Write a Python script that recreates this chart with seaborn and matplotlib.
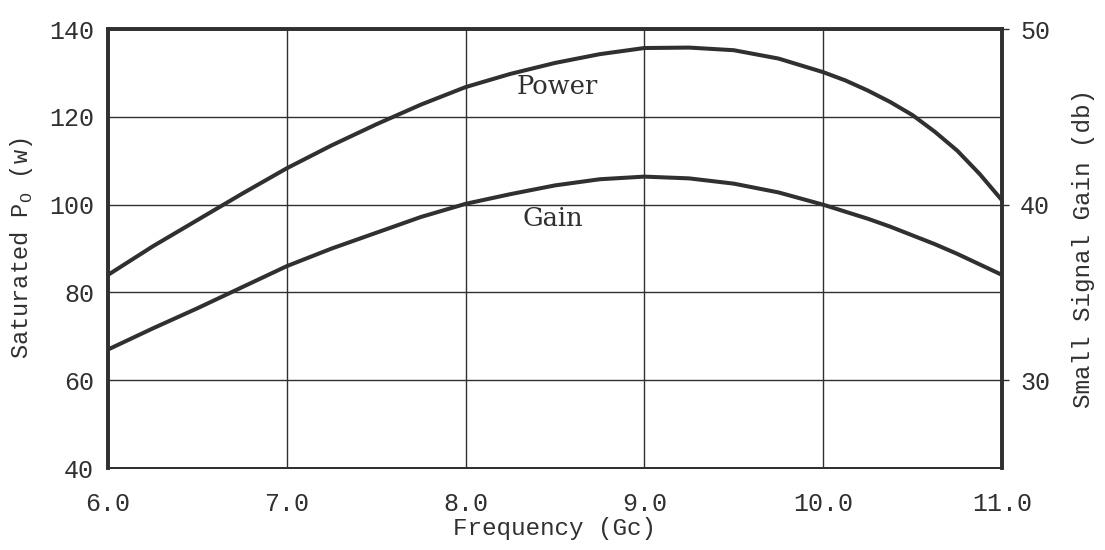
import matplotlib
matplotlib.use("Agg")
import matplotlib.pyplot as plt
import seaborn as sns
import pandas as pd

# Frequency sweep (Gc) and the two measured curves
freq = [6.0, 6.25, 6.5, 6.75, 7.0, 7.25, 7.5, 7.75, 8.0, 8.25, 8.5,
        8.75, 9.0, 9.25, 9.5, 9.75, 10.0, 10.125, 10.25, 10.375, 10.5,
        10.625, 10.75, 10.875, 11.0]
power_w = [84.0, 90.5, 96.5, 102.5, 108.3, 113.5, 118.3, 122.8, 126.8, 129.8, 132.3,
           134.3, 135.7, 135.8, 135.2, 133.3, 130.2, 128.3, 126.0, 123.4, 120.4,
           116.6, 112.3, 107.0, 101.0]
gain_db = [31.75, 32.95, 34.1, 35.3, 36.5, 37.5, 38.4, 39.3, 40.05, 40.6, 41.1,
           41.45, 41.6, 41.5, 41.2, 40.7, 40.0, 39.6, 39.2, 38.75, 38.25,
           37.75, 37.2, 36.6, 36.0]

x_ticks = [6.0, 7.0, 8.0, 9.0, 10.0, 11.0]
x_tick_labels = ["6.0", "7.0", "8.0", "9.0", "10.0", "11.0"]
power_ticks = [40, 60, 80, 100, 120, 140]
gain_ticks = [30, 40, 50]

df = pd.DataFrame({"freq": freq, "power": power_w, "gain": gain_db})

sns.set_theme(style="white")
plt.rcParams["font.family"] = ["Liberation Mono", "DejaVu Sans Mono"]
plt.rcParams["mathtext.fontset"] = "custom"
plt.rcParams["mathtext.rm"] = "Liberation Mono"

ink = "#303030"
fig = plt.figure(figsize=(11.05, 5.5), dpi=100)
ax = fig.add_axes([0.0977, 0.149, 0.8091, 0.798])

sns.lineplot(data=df, x="freq", y="power", ax=ax, color=ink, lw=2.9,
             estimator=None, sort=True)
ax.set_xlim(6.0, 11.0)
ax.set_ylim(40, 140)
ax.set_xticks(x_ticks)
ax.set_xticklabels(x_tick_labels)
ax.set_yticks(power_ticks)
ax.grid(True, color=ink, lw=1.0)
ax.tick_params(axis="both", length=0, labelsize=18, colors=ink)
ax.tick_params(axis="x", pad=17)
ax.tick_params(axis="y", pad=10)
ax.set_xlabel("Frequency (Gc)", fontsize=17.5, color=ink, labelpad=1)
ax.set_ylabel(r"Saturated P$_\mathregular{O}$ (w)", fontsize=17, color=ink, labelpad=10)

ax2 = ax.twinx()
sns.lineplot(data=df, x="freq", y="gain", ax=ax2, color=ink, lw=2.9,
             estimator=None, sort=True)
ax2.set_ylim(25, 50)
ax2.set_yticks(gain_ticks)
ax2.grid(False)
ax2.tick_params(axis="y", length=5, width=1.0, direction="out", labelsize=18,
                colors=ink, pad=8)
ax2.set_ylabel("Small Signal Gain (db)", fontsize=17.5, color=ink, labelpad=16)

for a in (ax, ax2):
    for side in ("top", "left", "right"):
        a.spines[side].set_linewidth(2.6)
        a.spines[side].set_color(ink)
    a.spines["bottom"].set_linewidth(1.4)
    a.spines["bottom"].set_color(ink)

ax.text(8.51, 127, "Power", fontsize=18.5, color=ink, ha="center", va="center",
        family="DejaVu Serif")
ax.text(8.49, 96.9, "Gain", fontsize=18.5, color=ink, ha="center", va="center",
        family="DejaVu Serif")

fig.savefig("out.png", dpi=100, facecolor="white")
